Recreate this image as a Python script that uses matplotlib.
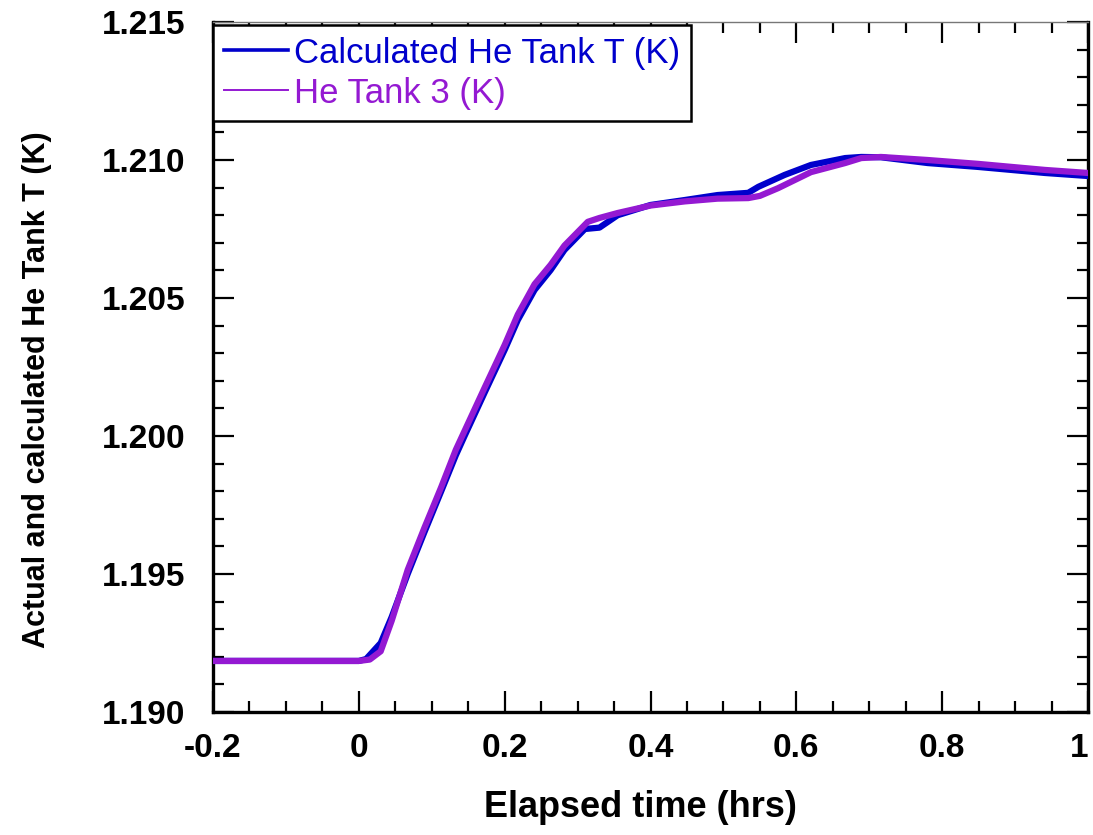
import matplotlib
matplotlib.use("Agg")
import matplotlib.pyplot as plt
from matplotlib.lines import Line2D
from matplotlib.ticker import MultipleLocator

plt.rcParams['axes.unicode_minus'] = False

# Elapsed time (hrs) and helium tank temperatures (K)
calc_time = [-0.2, 0.0, 0.01, 0.03, 0.045, 0.067, 0.09, 0.113, 0.133, 0.145,
             0.173, 0.20, 0.218, 0.241, 0.263, 0.282, 0.31, 0.33, 0.355, 0.40,
             0.447, 0.492, 0.534, 0.548, 0.584, 0.620, 0.667, 0.689, 0.716,
             0.78, 0.849, 0.941, 1.0]
calc_temp = [1.19185, 1.19185, 1.19192, 1.19250, 1.19344, 1.19500, 1.19652,
             1.19800, 1.19930, 1.20000, 1.20160, 1.20312, 1.20420, 1.20529,
             1.20601, 1.20674, 1.20750, 1.20755, 1.20800, 1.20837, 1.20855,
             1.20873, 1.20881, 1.20903, 1.20946, 1.20982, 1.21007, 1.21011,
             1.21010, 1.20989, 1.20975, 1.20953, 1.20942]

tank3_time = [-0.2, 0.0, 0.015, 0.03, 0.045, 0.067, 0.09, 0.113, 0.133, 0.173,
              0.20, 0.218, 0.241, 0.263, 0.282, 0.314, 0.33, 0.355, 0.40, 0.447,
              0.492, 0.534, 0.55, 0.575, 0.620, 0.667, 0.689, 0.716, 0.78,
              0.849, 0.941, 1.0]
tank3_temp = [1.19185, 1.19185, 1.19190, 1.19220, 1.19330, 1.19515, 1.19668,
              1.19815, 1.19950, 1.20178, 1.20330, 1.20440, 1.20550, 1.20620,
              1.20690, 1.20776, 1.20790, 1.20808, 1.20835, 1.20850, 1.20860,
              1.20862, 1.20870, 1.20898, 1.20956, 1.20989, 1.21007, 1.21011,
              1.21000, 1.20986, 1.20964, 1.20953]

x_ticks = [-0.2, 0.0, 0.2, 0.4, 0.6, 0.8, 1.0]
x_tick_labels = ["-0.2", "0", "0.2", "0.4", "0.6", "0.8", "1"]
y_ticks = [1.190, 1.195, 1.200, 1.205, 1.210, 1.215]
y_tick_labels = ["1.190", "1.195", "1.200", "1.205", "1.210", "1.215"]

series_labels = ["Calculated He Tank T (K)", "He Tank 3 (K)"]
blue = "#0000CC"
purple = "#9419D2"

fig = plt.figure(figsize=(10.93, 8.35), dpi=100)
ax = fig.add_axes([213 / 1093, 1 - 712 / 835, 875 / 1093, 690 / 835])

ax.plot(calc_time, calc_temp, color=blue, lw=4.5, solid_joinstyle="round", zorder=3)
ax.plot(tank3_time, tank3_temp, color=purple, lw=4.5, solid_joinstyle="round", zorder=4)

ax.set_xlim(-0.2, 1.0)
ax.set_ylim(1.190, 1.215)
ax.set_xticks(x_ticks, x_tick_labels)
ax.set_yticks(y_ticks, y_tick_labels)
ax.xaxis.set_minor_locator(MultipleLocator(0.05))
ax.yaxis.set_minor_locator(MultipleLocator(0.001))

ax.tick_params(which="both", direction="in", top=True, right=True, width=1.6, color="black")
ax.tick_params(which="major", length=15)
ax.tick_params(which="minor", length=8)
ax.tick_params(axis="x", which="major", pad=15)
ax.tick_params(axis="y", which="major", pad=20)

for lab in ax.get_xticklabels() + ax.get_yticklabels():
    lab.set_fontfamily("Liberation Sans")
    lab.set_fontweight("bold")
    lab.set_fontsize(24)
for lab in ax.get_xticklabels():
    if lab.get_text() == "1":
        lab.set_horizontalalignment("right")

for side in ("left", "bottom", "right"):
    ax.spines[side].set_linewidth(2.4)
    ax.spines[side].set_color("black")
ax.spines["top"].set_linewidth(1.0)
ax.spines["top"].set_color("#777777")

ax.set_xlabel("Elapsed time (hrs)", family="Liberation Sans", fontweight="bold",
              fontsize=26, labelpad=19)
ax.set_ylabel("Actual and calculated He Tank T (K)", family="Liberation Sans",
              fontweight="bold", fontsize=22, labelpad=36)
ax.xaxis.label.set_x(0.489)
ax.yaxis.label.set_y(0.467)

handles = [Line2D([], [], color=blue, lw=2.6), Line2D([], [], color=purple, lw=1.4)]
leg = ax.legend(handles, series_labels, loc="upper left", bbox_to_anchor=(0.0, 0.995),
                borderaxespad=0, prop={"family": "Liberation Sans", "size": 25},
                handlelength=1.85, handletextpad=0.15, labelspacing=0.2, borderpad=0.32,
                fancybox=False, frameon=True, framealpha=1, edgecolor="black")
leg.get_frame().set_linewidth(1.8)
for txt, col in zip(leg.get_texts(), [blue, purple]):
    txt.set_color(col)

fig.savefig("out.png", dpi=100)
